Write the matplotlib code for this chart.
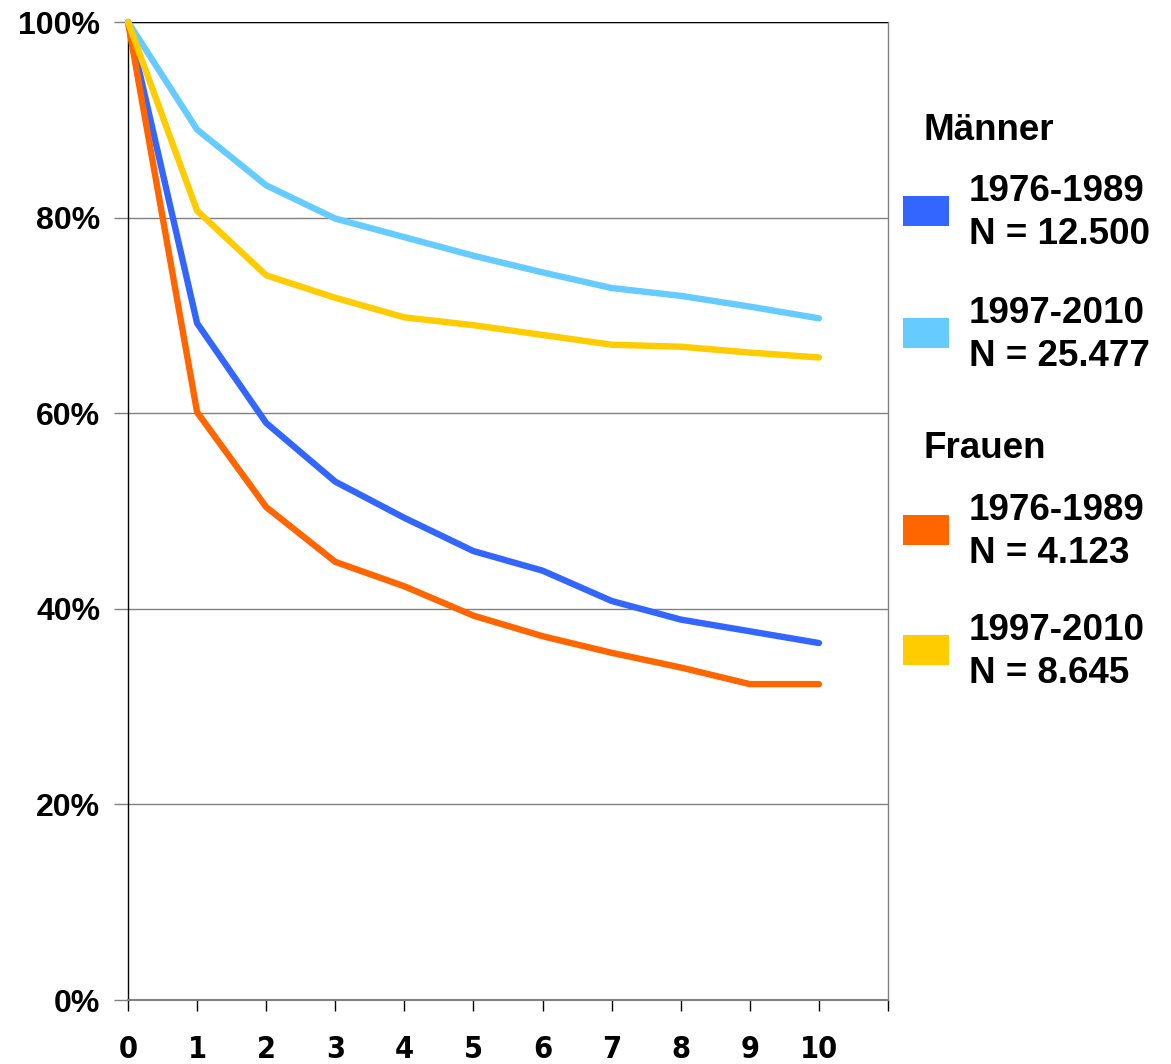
import matplotlib
matplotlib.use("Agg")
import matplotlib.pyplot as plt
from matplotlib.patches import Rectangle
from matplotlib.ticker import FuncFormatter

years = [0, 1, 2, 3, 4, 5, 6, 7, 8, 9, 10]
maenner_1976 = [100, 69.2, 59.0, 53.0, 49.3, 45.9, 43.9, 40.8, 38.9, 37.7, 36.5]
maenner_1997 = [100, 89.0, 83.3, 79.9, 78.0, 76.1, 74.4, 72.8, 72.0, 70.9, 69.7]
frauen_1976 = [100, 60.1, 50.4, 44.8, 42.3, 39.3, 37.2, 35.5, 34.0, 32.3, 32.3]
frauen_1997 = [100, 80.7, 74.1, 71.8, 69.8, 69.0, 68.0, 67.0, 66.8, 66.2, 65.7]

y_ticks = [0, 20, 40, 60, 80, 100]
x_ticks = list(range(0, 12))
x_tick_labels = [str(v) for v in range(0, 11)] + [""]

group_titles = ["Männer", "Frauen"]
legend_labels = [
    "1976-1989\nN = 12.500",
    "1997-2010\nN = 25.477",
    "1976-1989\nN = 4.123",
    "1997-2010\nN = 8.645",
]
colors = ["#3366FF", "#66CCFF", "#FF6600", "#FFCC00"]

W, H = 1171, 1064
fig = plt.figure(figsize=(W / 100, H / 100), dpi=100)
ax = fig.add_axes([128 / W, (H - 1000) / H, (888 - 128) / W, (1000 - 22) / H])

series = [maenner_1976, maenner_1997, frauen_1976, frauen_1997]
for idx in [1, 3, 0, 2]:
    ax.plot(years, series[idx], color=colors[idx], lw=4.6,
            solid_capstyle="round", solid_joinstyle="round", zorder=3 + idx, clip_on=False)

ax.set_xlim(0, 11)
ax.set_ylim(0, 100)
ax.set_yticks(y_ticks)
ax.yaxis.set_major_formatter(FuncFormatter(lambda v, p: f"{int(v)}%"))
ax.set_xticks(x_ticks)
ax.set_xticklabels(x_tick_labels)
ax.grid(axis="y", color="#808080", lw=1.0)
ax.set_axisbelow(True)

ax.spines["top"].set_visible(False)
ax.spines["left"].set_color("black")
ax.spines["left"].set_linewidth(1.0)
ax.spines["right"].set_color("#808080")
ax.spines["right"].set_linewidth(1.0)
ax.spines["bottom"].set_color("#808080")
ax.spines["bottom"].set_linewidth(1.5)
ax.axhline(100, color="black", lw=1.0, zorder=2)

main = "Liberation Sans"

ax.tick_params(axis="y", length=10, width=1, color="#808080", pad=10)
ax.tick_params(axis="x", length=8, width=1, color="black", pad=17)
for lab in ax.get_yticklabels():
    lab.set_fontfamily(main)
    lab.set_fontweight("bold")
    lab.set_fontsize(23)
for lab in ax.get_xticklabels():
    lab.set_fontfamily("DejaVu Sans")
    lab.set_fontstretch("condensed")
    lab.set_fontweight("bold")
    lab.set_fontsize(22)

def fy(py):
    return (H - py) / H

fs = 26.5
header_y = [131, 449]
for t, py in zip(group_titles, header_y):
    fig.text(923 / W, fy(py), t, fontsize=fs, fontweight="bold", family=main,
             ha="left", va="center")

patch_centers = [211, 333, 530, 650]
for lab, col, pc in zip(legend_labels, colors, patch_centers):
    fig.patches.append(Rectangle((903 / W, fy(pc + 15)), 46 / W, 30 / H,
                                 transform=fig.transFigure, facecolor=col,
                                 edgecolor="none"))
    fig.text(969 / W, fy(pc + 2), lab, fontsize=fs, fontweight="bold", family=main,
             ha="left", va="center", linespacing=1.33)

fig.savefig("out.png", dpi=100)
